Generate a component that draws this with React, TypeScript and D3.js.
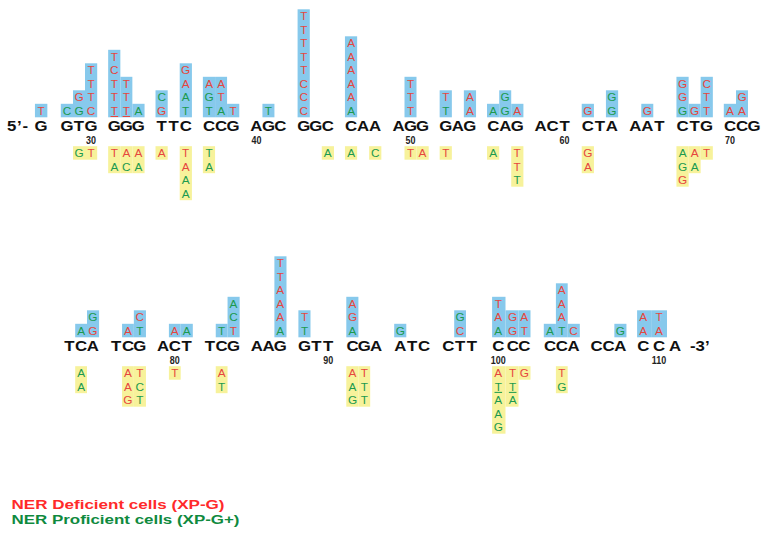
import React from 'react';
import * as d3 from 'd3';

const W = 762;
const H = 533;

// sequence, codon by codon; the first top codon only shows position 27
const topCodons = ["G", "GTG", "GGG", "TTC", "CCG", "AGC", "GGC", "CAA", "AGG", "GAG", "CAG", "ACT", "CTA", "AAT", "CTG", "CCG"];
const bottomCodons = ["TCA", "TCG", "ACT", "TCG", "AAG", "GTT", "CGA", "ATC", "CTT", "CCC", "CCA", "CCA", "CCA"];
const positionTicks = [30, 40, 50, 60, 70, 80, 90, 100, 110];

// uppercase = NER deficient (red), lowercase = NER proficient (green), "_" = underlined
// blue stacks read bottom -> top
const blueStacks: [number, string][] = [
  [27, "T"], [28, "c"], [29, "gG"], [30, "CTTT"], [31, "T_TTCT"], [32, "T_TT"], [33, "a"],
  [34, "Gc"], [36, "taAG"], [37, "tgA"], [38, "aTA"], [39, "T"], [41, "t"],
  [43, "CCCTTTTT"], [46, "aAAAAA"], [50, "TTT"], [52, "tT"], [54, "AA"],
  [55, "a"], [56, "gg"], [57, "A"], [61, "G"], [63, "gg"], [65, "G"],
  [67, "gGG"], [68, "G"], [69, "TTC"], [70, "A"], [71, "AG"],
  [74, "a"], [75, "Gg"], [77, "A"], [78, "tC"], [80, "A"], [81, "a"],
  [83, "t"], [84, "Tca"], [87, "aAAATT"], [88, "tT"], [91, "aGA"], [94, "g"],
  [98, "Cg"], [100, "aAT"], [101, "GG"], [102, "TA"], [103, "a"], [104, "tAAA"],
  [105, "C"], [108, "g"], [109, "AA"], [110, "AT"],
];

// yellow stacks read top -> bottom
const yellowStacks: [number, string][] = [
  [29, "g"], [30, "T"], [31, "Ta"], [32, "Ac"], [33, "Aa"], [34, "A"],
  [36, "TAaa"], [37, "ta"], [45, "a"], [46, "a"], [48, "c"], [50, "T"], [51, "A"],
  [52, "T"], [55, "a"], [57, "TTt"], [61, "GA"], [67, "agG"], [68, "Aa"], [69, "T"],
  [74, "aa"], [77, "AAG"], [78, "Tct"], [80, "T"], [83, "At"], [91, "Aag"], [92, "Ttt"],
  [100, "At_aag"], [101, "Tt_a"], [102, "G"], [104, "Tg"],
];

const BLUE = "#87C9EC";
const YELLOW = "#F7F29B";
const RED = "#E6463E";
const GREEN = "#1B9A4F";
const CELL_H = 13.5;
const HALF_W = 6.2;
const FONT = "'Liberation Sans', Arial, Helvetica, sans-serif";

// codon x scales for each row
const rows = [
  {
    first: 25, codons: topCodons, baseline: 130.7, pitch: 12,
    scale: d3.scaleLinear().domain([1, 15]).range([67, 730]),
  },
  {
    first: 73, codons: bottomCodons, baseline: 350.7, pitch: 11.8,
    scale: d3.scaleLinear().domain([0, 4, 8, 9, 10, 12]).range([69.3, 256.7, 448.3, 498.3, 550, 643.3]),
  },
];
// uneven letter spacing in a few codons
const offsetOverride: Record<number, number[]> = {
  25: [0, 10, 21.5],
  100: [0, 14.4, 26],
  109: [0, 15.7, 31.7],
};

type PosInfo = { x: number; left: number; right: number; base: number; letter: string };

function buildPositions() {
  const map = new Map<number, PosInfo>();
  rows.forEach(row => {
    row.codons.forEach((codon, ci) => {
      const padded = codon.padStart(3, ' ');
      const start = row.first + ci * 3;
      const offs = offsetOverride[start] || [0, row.pitch, 2 * row.pitch];
      const xs = offs.map(o => row.scale(ci) + o);
      for (let k = 0; k < 3; k++) {
        if (padded[k] === ' ') continue;
        const x = xs[k];
        const left = k > 0 && padded[k - 1] !== ' ' ? (xs[k - 1] + x) / 2 : x - HALF_W;
        const right = k < 2 ? (x + xs[k + 1]) / 2 : x + HALF_W;
        map.set(start + k, { x, left, right, base: row.baseline, letter: padded[k] });
      }
    });
  });
  return map;
}

function parseStack(s: string) {
  const out: { letter: string; green: boolean; under: boolean }[] = [];
  for (const ch of s) {
    if (ch === '_') { out[out.length - 1].under = true; continue; }
    out.push({ letter: ch.toUpperCase(), green: ch !== ch.toUpperCase(), under: false });
  }
  return out;
}

const Letter = ({ x, y, c }: { x: number; y: number; c: { letter: string; green: boolean; under: boolean } }) => {
  const col = c.green ? GREEN : RED;
  return (
    <g>
      <text x={x} y={y} textAnchor="middle" fontSize={11.8} fontFamily={FONT} fill={col}>{c.letter}</text>
      {c.under && <line x1={x - 3.8} x2={x + 3.8} y1={y + 1.8} y2={y + 1.8} stroke={col} strokeWidth={1} />}
    </g>
  );
};

const App = () => {
  const pos = buildPositions();

  return (
    <svg width={W} height={H} style={{ position: 'absolute', left: 0, top: 0, background: '#fff' }}>
      {/* blue stacks above the sequence */}
      {blueStacks.map(([p, s]) => {
        const info = pos.get(p)!;
        const cells = parseStack(s);
        const bottom = info.base - 13.4;
        return (
          <g key={'b' + p}>
            <rect x={info.left} y={bottom - cells.length * CELL_H} width={info.right - info.left}
              height={cells.length * CELL_H} fill={BLUE} />
            {cells.map((c, k) => (
              <Letter key={k} x={info.x} y={bottom - (k + 1) * CELL_H + 10.9} c={c} />
            ))}
          </g>
        );
      })}

      {/* yellow stacks below the sequence */}
      {yellowStacks.map(([p, s]) => {
        const info = pos.get(p)!;
        const cells = parseStack(s);
        const top = info.base + 15.5;
        return (
          <g key={'y' + p}>
            <rect x={info.left} y={top} width={info.right - info.left}
              height={cells.length * CELL_H} fill={YELLOW} />
            {cells.map((c, k) => (
              <Letter key={k} x={info.x} y={top + k * CELL_H + 10.9} c={c} />
            ))}
          </g>
        );
      })}

      {/* sequence */}
      {Array.from(pos.entries()).map(([p, info]) => (
        <text key={'s' + p} transform={`translate(${info.x},${info.base}) scale(1.2,1)`}
          textAnchor="middle" fontSize={14} fontWeight="bold" fontFamily={FONT} fill="#111">{info.letter}</text>
      ))}
      <text transform={`translate(7,${rows[0].baseline}) scale(1.2,1)`} fontSize={14} fontWeight="bold"
        fontFamily={FONT} letterSpacing={0.6} fill="#111">5’-</text>
      <text transform={`translate(690,${rows[1].baseline}) scale(1.2,1)`} fontSize={14} fontWeight="bold"
        fontFamily={FONT} fill="#111">-3’</text>

      {/* position numbers */}
      {positionTicks.map(t => {
        const info = pos.get(t)!;
        return (
          <text key={'t' + t} transform={`translate(${info.x},${info.base + 13.4}) scale(0.85,1)`}
            textAnchor="middle" fontSize={10.5} fontWeight="bold" fontFamily={FONT} fill="#222">{t}</text>
        );
      })}

      {/* legend */}
      <text x={11.5} y={509} fontSize={13} fontWeight="bold" fontFamily={FONT} fill="#FF2A2A"
        textLength={213} lengthAdjust="spacingAndGlyphs">NER Deficient cells (XP-G)</text>
      <text x={11.5} y={523.5} fontSize={13} fontWeight="bold" fontFamily={FONT} fill="#0F8A3E"
        textLength={228} lengthAdjust="spacingAndGlyphs">NER Proficient cells (XP-G+)</text>
    </svg>
  );
};

export default App;
